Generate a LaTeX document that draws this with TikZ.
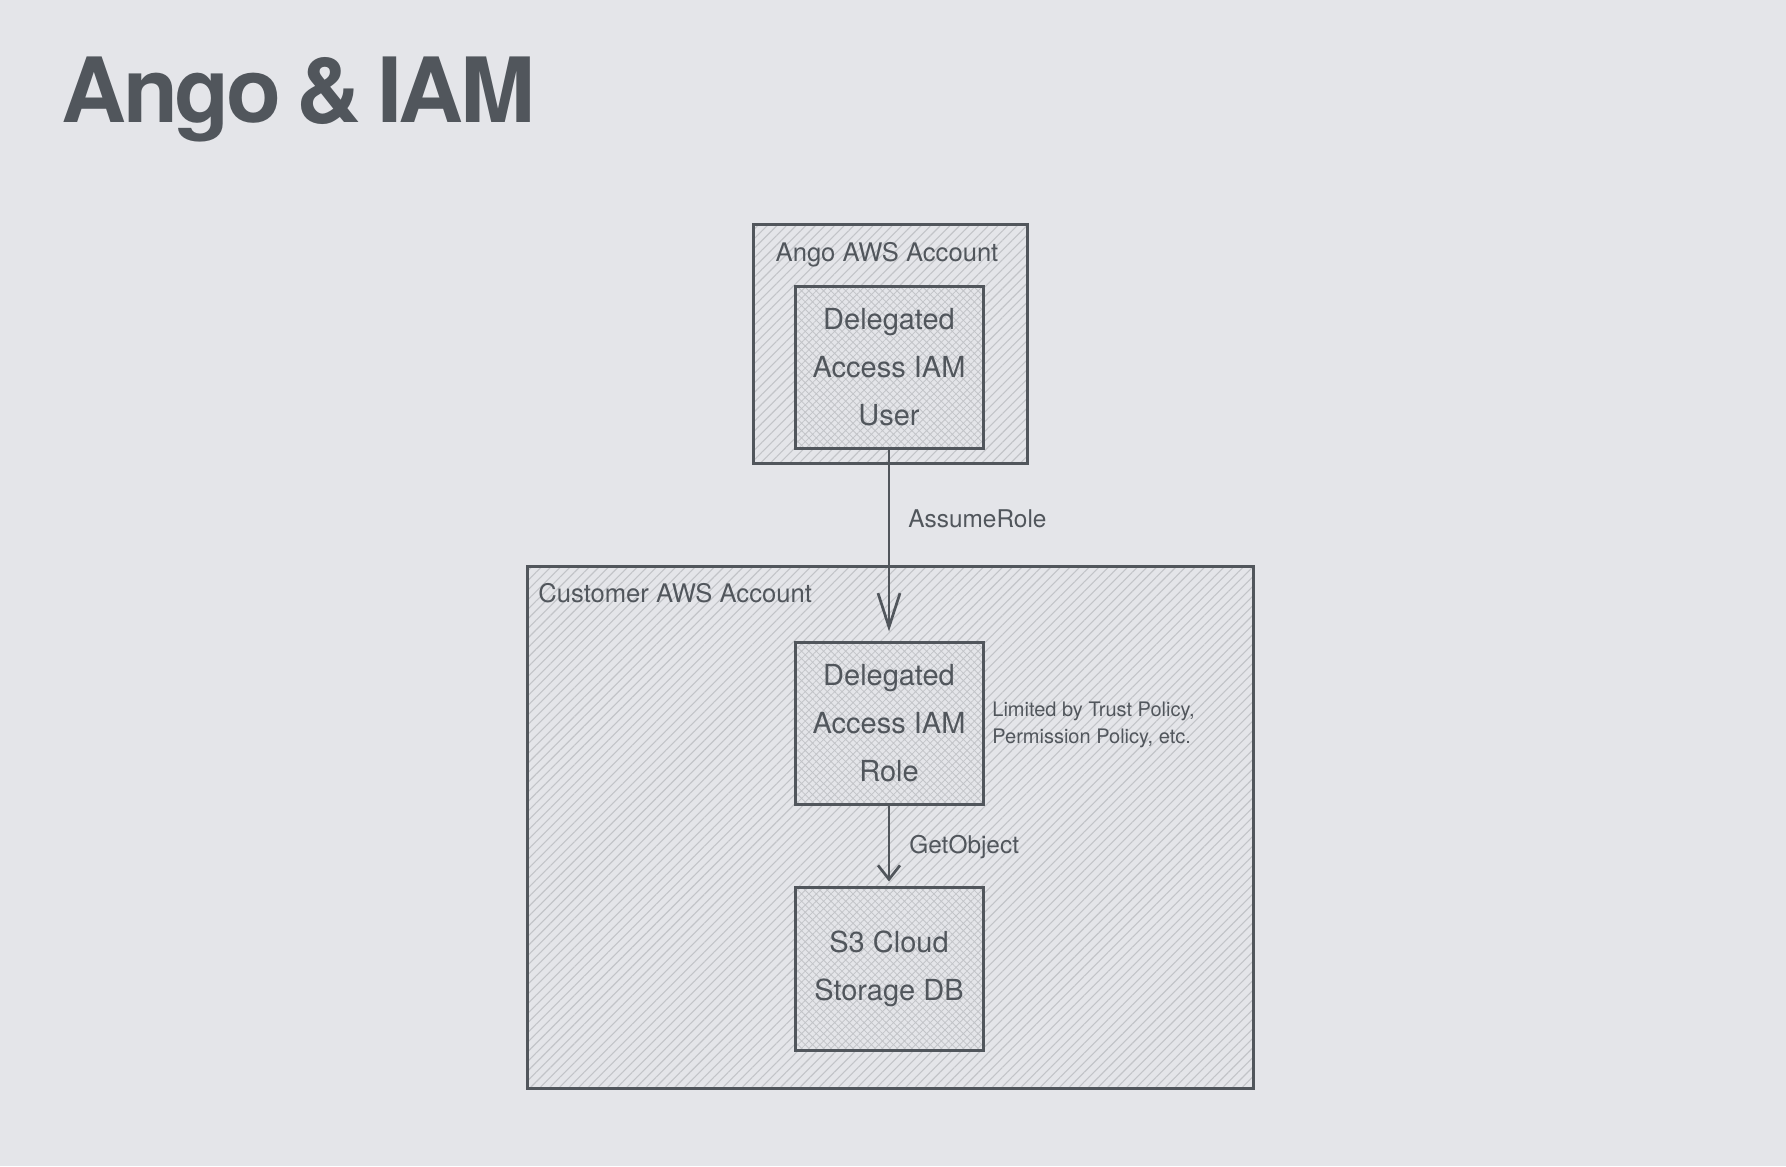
\documentclass[tikz,border=0pt]{standalone}
\usepackage{fontspec}
\setmainfont{TeX Gyre Heros}
\newfontfamily\titlefont[LetterSpace=-3.6,WordSpace=0.7]{TeX Gyre Heros}
\usetikzlibrary{arrows.meta,patterns.meta,positioning}
\definecolor{bgcol}{HTML}{E4E5E9}
\definecolor{inkcol}{HTML}{51565C}
\definecolor{hatchcol}{HTML}{C2C4C8}
\tikzset{
    accountbox/.style = {
        draw=inkcol,
        line width=1.5pt,
        pattern={Lines[angle=45,distance=3.4pt,line width=0.55pt]},
        pattern color=hatchcol,
        inner sep=0pt
    },
    servicebox/.style = {
        preaction={fill=bgcol},
        pattern={Hatch[angle=45,distance=2.6pt,line width=0.4pt]},
        pattern color=hatchcol,
        draw=inkcol,
        line width=1.5pt,
        minimum width=94pt,
        minimum height=81pt,
        align=center,
        text=inkcol,
        font=\fontsize{14.5}{24}\selectfont,
        inner sep=0pt
    },
    accountlabel/.style = {
        anchor=base west,
        text=inkcol,
        inner sep=0pt,
        font=\fontsize{12.8}{15}\selectfont
    },
    edgelabel/.style = {
        anchor=base west,
        text=inkcol,
        inner sep=0pt,
        font=\fontsize{12.2}{14}\selectfont
    },
    flow/.style = {
        draw=inkcol,
        line width=1.35pt
    }
}
\begin{document}
\begin{tikzpicture}[x=0.5pt,y=-0.5pt]
    \fill[bgcol] (0,0) rectangle (1786,1166);
    \useasboundingbox (0,0) rectangle (1786,1166);

    \node [anchor=base west, text=inkcol, inner sep=0pt, font=\titlefont\fontsize{45}{45}\selectfont\bfseries] (title) at (61,123) {Ango \& IAM};

    % accounts
    \node [accountbox, minimum width=137pt, minimum height=119pt] (ango) at (890,344) {};
    \node [accountbox, minimum width=363pt, minimum height=261pt] (customer) at (890,827) {};
    \node [accountlabel, anchor=base] (angolabel) at (887,262) {Ango AWS Account};
    \node [accountlabel] (customerlabel) at (538,602) {Customer AWS Account};

    % services
    \node [servicebox] (user) at (889,367) {Delegated\\Access IAM\\User};
    \node [servicebox] (role) at (889,723) {Delegated\\Access IAM\\Role};
    \node [servicebox, minimum height=81.5pt] (s3) at (889,968.5) {S3 Cloud\\Storage DB};

    \draw [flow, -{Straight Barb[length=17pt,width=11pt,line width=1.35pt]}, shorten >=4.5pt] (user.south) -- (role.north);
    \draw [flow, -{Straight Barb[length=7pt,width=11pt,line width=1.35pt]}, shorten >=2pt] (role.south) -- (s3.north);

    \node [edgelabel] (assume) at (908,527) {AssumeRole};
    \node [edgelabel] (getobject) at (909,853) {GetObject};
    \node [anchor=west, text=inkcol, inner sep=0pt, align=left, font=\fontsize{10}{13.5}\selectfont] (limits) at (992,725) {Limited by Trust Policy,\\Permission Policy, etc.};
\end{tikzpicture}
\end{document}
